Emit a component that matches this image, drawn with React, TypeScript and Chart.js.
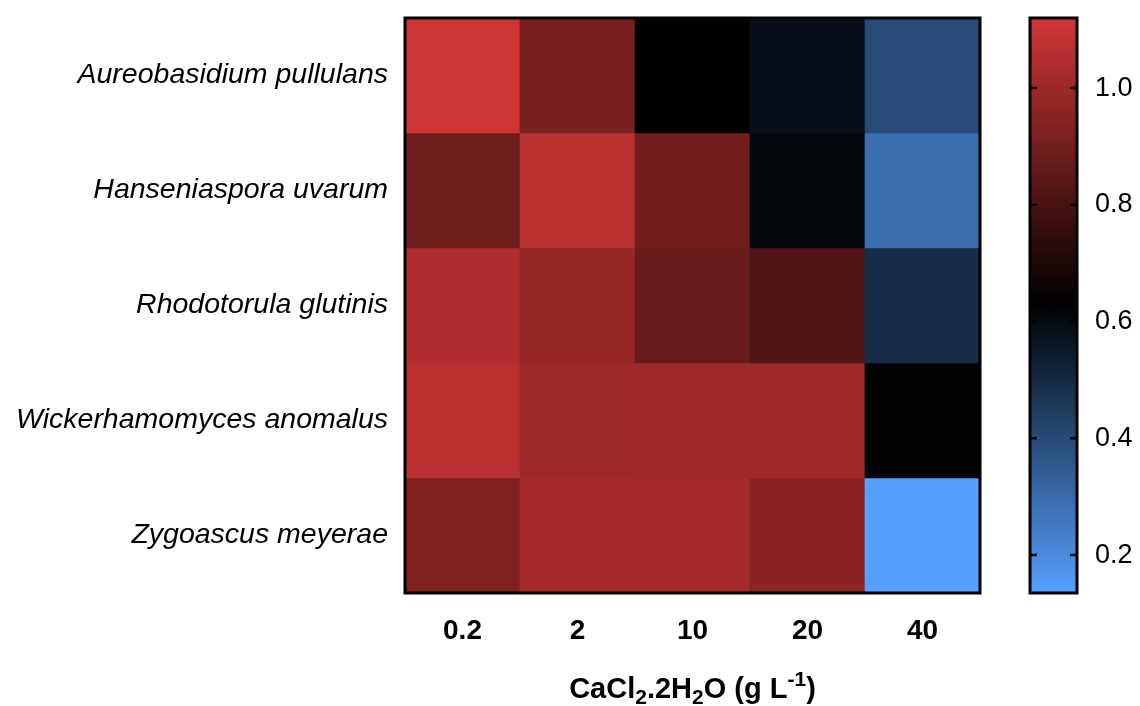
import React, { useEffect, useRef } from 'react';
import { Chart, registerables } from 'chart.js';

Chart.register(...registerables);

// ---- data ----
const concentrations = ['0.2', '2', '10', '20', '40'];
const species = [
  'Aureobasidium pullulans',
  'Hanseniaspora uvarum',
  'Rhodotorula glutinis',
  'Wickerhamomyces anomalus',
  'Zygoascus meyerae',
];
const aureobasidium = [1.113, 0.913, 0.635, 0.583, 0.397];
const hanseniaspora = [0.889, 1.066, 0.901, 0.607, 0.29];
const rhodotorula = [1.042, 0.979, 0.877, 0.819, 0.494];
const wickerhamomyces = [1.066, 1.002, 1.007, 1.007, 0.62];
const zygoascus = [0.931, 1.019, 1.019, 0.955, 0.135];
const rows = [aureobasidium, hanseniaspora, rhodotorula, wickerhamomyces, zygoascus];
const colorbarTicks = [0.2, 0.4, 0.6, 0.8, 1.0];
const scaleMin = 0.135;
const scaleMid = 0.63;
const scaleMax = 1.12;
// x-axis title, split into normal / subscript / superscript pieces
const xTitleParts: [string, 'n' | 'sub' | 'sup'][] = [
  ['CaCl', 'n'],
  ['2', 'sub'],
  ['.2H', 'n'],
  ['2', 'sub'],
  ['O (g L', 'n'],
  ['-1', 'sup'],
  [')', 'n'],
];

const HIGH = [208, 54, 54];
const LOW = [85, 160, 255];
const FONT = '"Liberation Sans", Arial, Helvetica, sans-serif';

function colorFor(v: number): string {
  if (v >= scaleMid) {
    const t = Math.min(1, (v - scaleMid) / (scaleMax - scaleMid));
    return `rgb(${Math.round(HIGH[0] * t)},${Math.round(HIGH[1] * t)},${Math.round(HIGH[2] * t)})`;
  }
  const s = Math.min(1, (scaleMid - v) / (scaleMid - scaleMin));
  return `rgb(${Math.round(LOW[0] * s)},${Math.round(LOW[1] * s)},${Math.round(LOW[2] * s)})`;
}

const frame = {
  id: 'frame',
  afterDatasetsDraw(chart: any) {
    const { ctx, chartArea } = chart;
    ctx.save();
    ctx.strokeStyle = '#000';
    ctx.lineWidth = 3;
    ctx.strokeRect(chartArea.left, chartArea.top, chartArea.right - chartArea.left, chartArea.bottom - chartArea.top);
    ctx.restore();
  },
};

const axisTitle = {
  id: 'axisTitle',
  afterDraw(chart: any) {
    const { ctx, chartArea } = chart;
    const big = `bold 29px ${FONT}`;
    const small = `bold 21px ${FONT}`;
    ctx.save();
    ctx.fillStyle = '#000';
    ctx.textBaseline = 'alphabetic';
    ctx.textAlign = 'left';
    let total = 0;
    xTitleParts.forEach(([t, k]) => {
      ctx.font = k === 'n' ? big : small;
      total += ctx.measureText(t).width;
    });
    let x = (chartArea.left + chartArea.right) / 2 - total / 2;
    const base = 698;
    xTitleParts.forEach(([t, k]) => {
      ctx.font = k === 'n' ? big : small;
      const y = k === 'sub' ? base + 6 : k === 'sup' ? base - 12 : base;
      ctx.fillText(t, x, y);
      x += ctx.measureText(t).width;
    });
    ctx.restore();
  },
};

const barTicks = {
  id: 'barTicks',
  afterDatasetsDraw(chart: any) {
    const { ctx, chartArea } = chart;
    const ys = chart.scales.y;
    ctx.save();
    ctx.strokeStyle = '#000';
    ctx.lineWidth = 2.5;
    colorbarTicks.forEach((v) => {
      const y = ys.getPixelForValue(v);
      ctx.beginPath();
      ctx.moveTo(chartArea.left, y);
      ctx.lineTo(chartArea.left + 7, y);
      ctx.moveTo(chartArea.right - 7, y);
      ctx.lineTo(chartArea.right, y);
      ctx.stroke();
    });
    ctx.restore();
  },
};

export default function App() {
  const mainRef = useRef<HTMLCanvasElement>(null);
  const barRef = useRef<HTMLCanvasElement>(null);

  useEffect(() => {
    document.body.style.margin = '0';
    const main = new Chart(mainRef.current!, {
      type: 'bar',
      data: {
        labels: concentrations,
        datasets: rows.map((vals, i) => ({
          label: species[i],
          data: concentrations.map(() => [i, i + 1]) as any,
          backgroundColor: vals.map(colorFor),
          borderWidth: 0,
          barPercentage: 1,
          categoryPercentage: 1,
          grouped: false,
        })),
      },
      options: {
        animation: false,
        responsive: false,
        maintainAspectRatio: false,
        layout: { padding: { left: 0, right: 20, top: 18, bottom: 0 } },
        plugins: { legend: { display: false }, tooltip: { enabled: false } },
        scales: {
          x: {
            type: 'category',
            grid: { display: false, drawTicks: false },
            border: { display: false },
            ticks: { color: '#000', padding: 21, font: { family: FONT, size: 28, weight: 'bold' } },
            afterFit: (s: any) => {
              s.height = 113;
              s.paddingLeft = 0;
              s.paddingRight = 0;
            },
          },
          y: {
            type: 'linear',
            min: 0,
            max: 5,
            reverse: true,
            grid: { display: false, drawTicks: false },
            border: { display: false },
            afterBuildTicks: (s: any) => {
              s.ticks = species.map((_, i) => ({ value: i + 0.5 }));
            },
            ticks: {
              color: '#000',
              padding: 17,
              autoSkip: false,
              font: { family: FONT, size: 28.5, style: 'italic' },
              callback: (v: any) => species[Math.floor(Number(v))],
            },
            afterFit: (s: any) => {
              s.width = 405;
              s.paddingTop = 0;
              s.paddingBottom = 0;
            },
          },
        },
      },
      plugins: [frame, axisTitle],
    } as any);

    const bar = new Chart(barRef.current!, {
      type: 'bar',
      data: {
        labels: [''],
        datasets: [
          {
            data: [[scaleMin, scaleMax]] as any,
            borderWidth: 0,
            barPercentage: 1,
            categoryPercentage: 1,
            backgroundColor: (c: any) => {
              const chart = c.chart;
              const ys = chart.scales.y;
              if (!chart.chartArea || !ys) return '#000';
              const g = chart.ctx.createLinearGradient(0, ys.getPixelForValue(scaleMin), 0, ys.getPixelForValue(scaleMax));
              g.addColorStop(0, colorFor(scaleMin));
              g.addColorStop((scaleMid - scaleMin) / (scaleMax - scaleMin), 'rgb(0,0,0)');
              g.addColorStop(1, colorFor(scaleMax));
              return g;
            },
          },
        ],
      },
      options: {
        animation: false,
        responsive: false,
        maintainAspectRatio: false,
        layout: { padding: { left: 30, right: 0, top: 18, bottom: 113 } },
        plugins: { legend: { display: false }, tooltip: { enabled: false } },
        scales: {
          x: { display: false },
          y: {
            type: 'linear',
            position: 'right',
            min: scaleMin,
            max: scaleMax,
            grid: { display: false, drawTicks: false },
            border: { display: false },
            afterBuildTicks: (s: any) => {
              s.ticks = colorbarTicks.map((v) => ({ value: v }));
            },
            ticks: {
              color: '#000',
              padding: 18,
              font: { family: FONT, size: 27 },
              callback: (v: any) => Number(v).toFixed(1),
            },
            afterFit: (s: any) => {
              s.width = 63;
              s.paddingTop = 0;
              s.paddingBottom = 0;
            },
          },
        },
      },
      plugins: [barTicks, frame],
    } as any);

    return () => {
      main.destroy();
      bar.destroy();
    };
  }, []);

  return (
    <div style={{ position: 'relative', width: 1140, height: 706, background: '#fff', overflow: 'hidden' }}>
      <canvas ref={mainRef} width={1000} height={706} style={{ position: 'absolute', left: 0, top: 0, width: 1000, height: 706 }} />
      <canvas ref={barRef} width={140} height={706} style={{ position: 'absolute', left: 1000, top: 0, width: 140, height: 706 }} />
    </div>
  );
}
